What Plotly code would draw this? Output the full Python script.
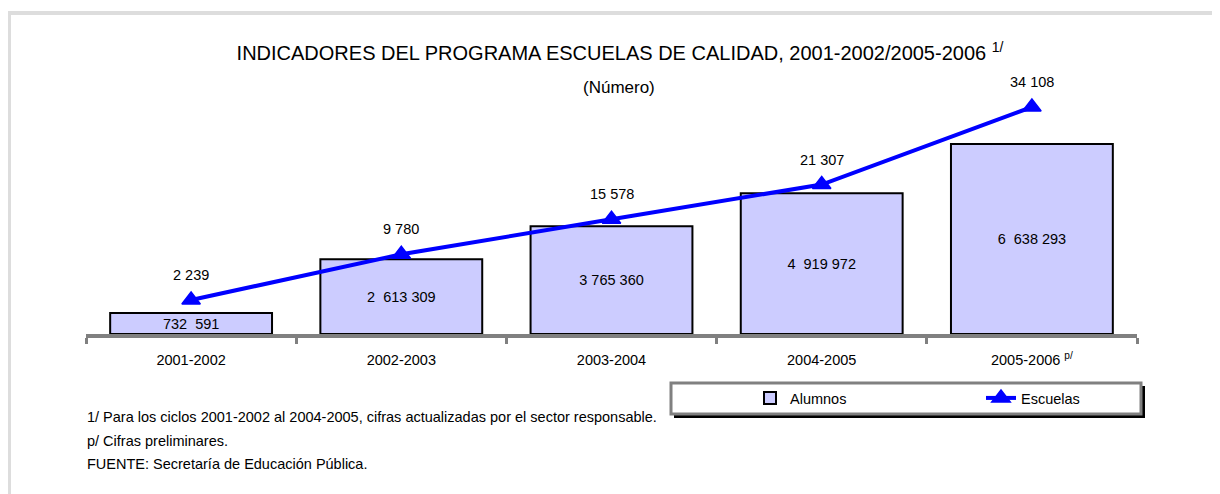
import plotly.graph_objects as go

# ---- data ----
ciclos = ["2001-2002", "2002-2003", "2003-2004", "2004-2005", "2005-2006"]
ciclo_labels = ["2001-2002", "2002-2003", "2003-2004", "2004-2005", "2005-2006 <sup>p/</sup>"]
alumnos = [732591, 2613309, 3765360, 4919972, 6638293]
escuelas = [2239, 9780, 15578, 21307, 34108]
alumnos_text = ["732\u00a0 591", "2\u00a0 613 309", "3 765 360", "4\u00a0 919 972", "6\u00a0 638 293"]
escuelas_text = ["2 239", "9 780", "15 578", "21 307", "34 108"]

FONT = "Liberation Sans, Arial, sans-serif"
OFF = 8  # page body margin
W, H = 1220 - OFF, 494 - OFF
L, R, T, B = 86 - OFF, 83, 100 - OFF, 160
PW = W - L - R
PH = H - T - B


def px_x(px):
    return (px - OFF - L) / PW


def px_y(py):
    return (H - B - (py - OFF)) / PH


fig = go.Figure()

fig.add_trace(go.Bar(
    x=ciclos, y=alumnos, name="Alumnos",
    width=0.77,
    marker=dict(color="#CCCCFF", line=dict(color="black", width=2)),
    text=alumnos_text, textposition="inside", insidetextanchor="middle",
    textangle=0, textfont=dict(family=FONT, size=14.5, color="black"),
    yaxis="y",
))

fig.add_trace(go.Scatter(
    x=ciclos, y=escuelas, name="Escuelas", mode="lines+markers",
    line=dict(color="#0000FF", width=4),
    marker=dict(symbol="triangle-up", size=16, color="#0000FF",
                line=dict(color="#0000FF", width=1.5)),
    yaxis="y2", cliponaxis=False,
))

annotations = []
for c, v, t in zip(ciclos, escuelas, escuelas_text):
    annotations.append(dict(
        x=c, y=v, xref="x", yref="y2", text=t, showarrow=False,
        yshift=25, font=dict(family=FONT, size=14.5, color="black"),
    ))

annotations.append(dict(
    x=px_x(619), y=px_y(88), xref="paper", yref="paper", text="(Número)",
    showarrow=False, xanchor="center", yanchor="middle",
    font=dict(family=FONT, size=17, color="black"),
))

notas = [
    "1/ Para los ciclos 2001-2002 al 2004-2005, cifras actualizadas por el sector responsable.",
    "p/ Cifras preliminares.",
    "FUENTE: Secretaría de Educación Pública.",
]
for t, yy in zip(notas, [417, 441, 464]):
    annotations.append(dict(
        x=px_x(85), y=px_y(yy), xref="paper", yref="paper", text=t,
        showarrow=False, xanchor="left", yanchor="middle",
        font=dict(family=FONT, size=14.5, color="black"),
    ))

shapes = [
    # outer light frame
    dict(type="line", xref="paper", yref="paper", x0=px_x(8), x1=px_x(1222),
         y0=px_y(13), y1=px_y(13), line=dict(color="#DDDDDD", width=4)),
    dict(type="line", xref="paper", yref="paper", x0=px_x(9.5), x1=px_x(9.5),
         y0=px_y(11), y1=px_y(500), line=dict(color="#DDDDDD", width=3)),
    # legend shadow and box
    dict(type="rect", xref="paper", yref="paper", x0=px_x(674), x1=px_x(1145),
         y0=px_y(386), y1=px_y(418), fillcolor="black", line=dict(width=0)),
    dict(type="rect", xref="paper", yref="paper", x0=px_x(671), x1=px_x(1141),
         y0=px_y(383), y1=px_y(414), fillcolor="white",
         line=dict(color="#808080", width=3)),
]

fig.update_layout(
    width=W, height=H, autosize=False,
    margin=dict(l=L, r=R, t=T, b=B, autoexpand=False),
    paper_bgcolor="white", plot_bgcolor="white",
    font=dict(family=FONT, size=14.5, color="black"),
    title=dict(
        text="INDICADORES DEL PROGRAMA ESCUELAS DE CALIDAD, 2001-2002/2005-2006 <sup>1/</sup>",
        x=(620 - OFF) / W, xanchor="center", xref="container",
        y=1 - (53 - OFF) / H, yanchor="middle", yref="container",
        font=dict(family=FONT, size=20, color="black"),
    ),
    xaxis=dict(
        type="category", categoryorder="array", categoryarray=ciclos,
        tickvals=ciclos, ticktext=ciclo_labels,
        range=[-0.5, 4.5], tickson="boundaries", ticks="outside",
        ticklen=6, tickwidth=3, tickcolor="#808080",
        showline=True, linecolor="#808080", linewidth=4,
        showgrid=False, zeroline=False, automargin=False,
        ticklabelstandoff=10,
        tickfont=dict(family=FONT, size=14.5, color="black"),
    ),
    yaxis=dict(range=[0, PH / 28.62e-6], visible=False, fixedrange=True),
    yaxis2=dict(range=[-(334 - 313.56) / 0.006056, (313.56 - 100) / 0.006056],
                overlaying="y", side="right", visible=False),
    showlegend=True,
    legend=dict(
        orientation="h", x=px_x(750), xanchor="left", y=px_y(398), yanchor="middle",
        bgcolor="rgba(0,0,0,0)", borderwidth=0, entrywidth=186,
        font=dict(family=FONT, size=14.5, color="black"),
        traceorder="normal",
    ),
    uniformtext=dict(mode="show", minsize=14),
    shapes=shapes,
    annotations=annotations,
)

fig.write_html("out.html")
